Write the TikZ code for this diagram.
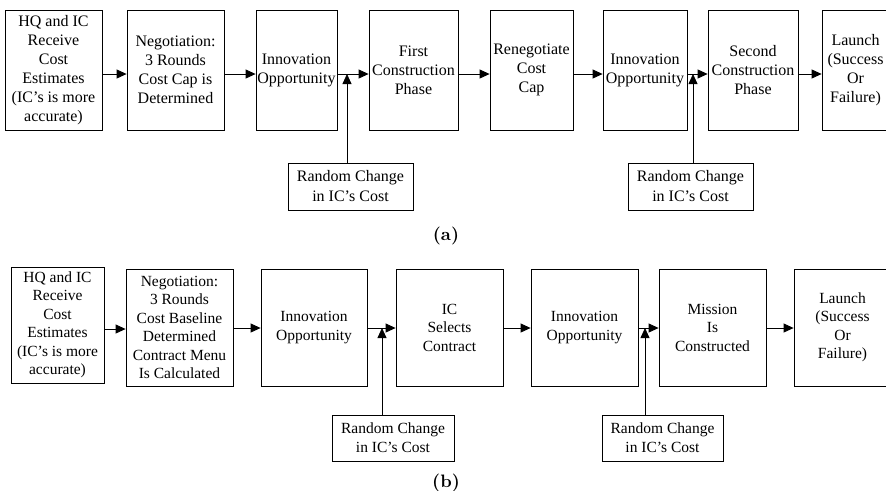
\documentclass[tikz,border=0pt]{standalone}
\usepackage{fontspec}
\newfontfamily\tnr{Liberation Serif}
\newfontfamily\capfont{lmroman10-bold}[Extension=.otf]
\usetikzlibrary{arrows.meta}
\begin{document}
\begin{tikzpicture}[x=1pt,y=-1pt,
  box/.style={draw, line width=0.8pt, inner sep=0pt, align=center},
  topf/.style={font=\tnr\fontsize{16}{19}\selectfont},
  botf/.style={font=\tnr\fontsize{15.5}{18.5}\selectfont},
  rtop/.style={font=\tnr\fontsize{16}{20}\selectfont},
  rbot/.style={font=\tnr\fontsize{15.5}{19}\selectfont},
  arr/.style={line width=0.8pt, -{Triangle[length=10pt,width=9pt]}},
  captxt/.style={font={\capfont\fontsize{18}{21}\selectfont}}]
\useasboundingbox (0,0) rectangle (886,490);
% ---------- (a) ----------
\node[box,topf,minimum width=97pt,minimum height=120pt] (A1) at (53.5,70) {HQ and IC\\Receive\\Cost\\Estimates\\(IC’s is more\\accurate)};
\node[box,topf,minimum width=97pt,minimum height=120pt] (A2) at (175.5,70) {Negotiation:\\3 Rounds\\Cost Cap is\\Determined};
\node[box,topf,minimum width=81pt,minimum height=120pt] (A3) at (296.5,70) {Innovation\\Opportunity};
\node[box,topf,minimum width=89pt,minimum height=120pt] (A4) at (413.5,70) {First\\Construction\\Phase};
\node[box,topf,minimum width=83pt,minimum height=120pt] (A5) at (531.5,70) {Renegotiate\\Cost\\Cap};
\node[box,topf,minimum width=84pt,minimum height=120pt] (A6) at (645,70) {Innovation\\Opportunity};
\node[box,topf,minimum width=90pt,minimum height=120pt] (A7) at (753,70) {Second\\Construction\\Phase};
\node[box,topf,minimum width=67pt,minimum height=120pt] (A8) at (855.5,70) {Launch\\(Success\\Or\\Failure)};
\node[box,rtop,minimum width=125pt,minimum height=47pt] (R1) at (350.5,186.5) {Random Change\\in IC’s Cost};
\node[box,rtop,minimum width=125pt,minimum height=47pt] (R2) at (690.5,186.5) {Random Change\\in IC’s Cost};
\foreach \a/\b in {A1/A2,A2/A3,A3/A4,A4/A5,A5/A6,A6/A7,A7/A8}
  \draw[arr] ([yshift=-4pt]\a.east) -- ([yshift=-4pt]\b.west);
\coordinate (J1) at (347,74);
\coordinate (J2) at (693,74);
\draw[arr] (R1.north -| J1) -- (J1);
\draw[arr] (R2.north -| J2) -- (J2);
\node[captxt] (ca) at (446,236) {(a)};
% ---------- (b) ----------
\node[box,botf,minimum width=93pt,minimum height=116pt] (B1) at (57.5,325) {HQ and IC\\Receive\\Cost\\Estimates\\(IC’s is more\\accurate)};
\node[box,botf,minimum width=107pt,minimum height=117pt] (B2) at (179.5,327.5) {Negotiation:\\3 Rounds\\Cost Baseline\\Determined\\Contract Menu\\Is Calculated};
\node[box,botf,minimum width=106pt,minimum height=117pt] (B3) at (314,327.5) {Innovation\\Opportunity};
\node[box,botf,minimum width=107pt,minimum height=117pt] (B4) at (449.5,327.5) {IC\\Selects\\Contract};
\node[box,botf,minimum width=107pt,minimum height=117pt] (B5) at (584.5,327.5) {Innovation\\Opportunity};
\node[box,botf,minimum width=107pt,minimum height=117pt] (B6) at (712.5,327.5) {Mission\\Is\\Constructed};
\node[box,botf,minimum width=97pt,minimum height=117pt] (B7) at (842.5,327.5) {Launch\\(Success\\Or\\Failure)};
\node[box,rbot,minimum width=122pt,minimum height=46pt] (S1) at (393,438) {Random Change\\in IC’s Cost};
\node[box,rbot,minimum width=121pt,minimum height=46pt] (S2) at (662.5,438) {Random Change\\in IC’s Cost};
\draw[arr] ([yshift=-4pt]B1.east) -- ([yshift=-1.5pt]B2.west);
\foreach \a/\b in {B2/B3,B3/B4,B4/B5,B5/B6,B6/B7}
  \draw[arr] ([yshift=-0.5pt]\a.east) -- ([yshift=-0.5pt]\b.west);
\coordinate (K1) at (382,328);
\coordinate (K2) at (645,328);
\draw[arr] (S1.north -| K1) -- (K1);
\draw[arr] (S2.north -| K2) -- (K2);
\node[captxt] (cb) at (446,483) {(b)};
\end{tikzpicture}
\end{document}
